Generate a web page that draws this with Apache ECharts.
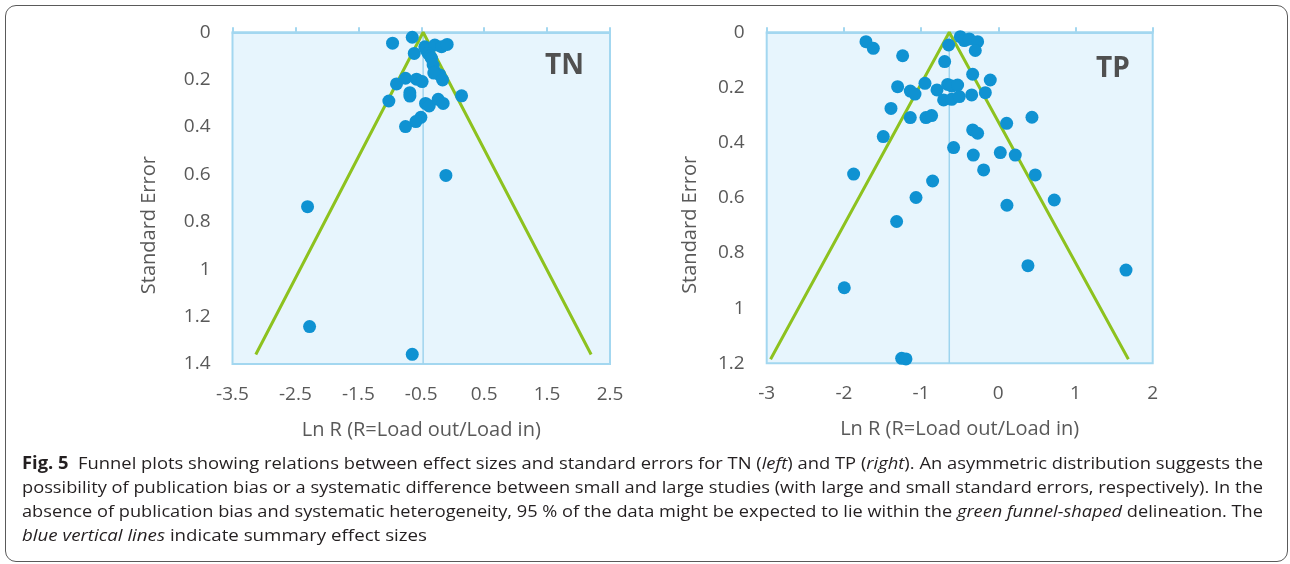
<!DOCTYPE html>
<html><head><meta charset="utf-8">
<script src="https://cdn.jsdelivr.net/npm/echarts@6/dist/echarts.min.js"></script>
<style>
html,body{margin:0;padding:0;width:1290px;height:564px;background:#fff;overflow:hidden}
#chart{position:absolute;left:0;top:0;width:1290px;height:564px}
#frame{position:absolute;left:5px;top:5px;width:1283px;height:557px;border:1.3px solid #5a5a5a;border-radius:11px;box-sizing:border-box;pointer-events:none}
#caption{position:absolute;left:22px;top:451px;width:1241px;font-family:"Open Sans","Noto Sans",sans-serif;font-size:17px;line-height:24px;color:#231f20}
#caption div{white-space:nowrap;height:24px}
#caption span{display:inline-block;transform-origin:0 50%;white-space:nowrap}
</style></head>
<body>
<div id="chart"></div>
<div id="frame"></div>
<div id="caption">
<div><span data-w="1241"><b>Fig. 5</b>&nbsp; Funnel plots showing relations between effect sizes and standard errors for TN (<i>left</i>) and TP (<i>right</i>). An asymmetric distribution suggests the</span></div>
<div><span data-w="1241">possibility of publication bias or a systematic difference between small and large studies (with large and small standard errors, respectively). In the</span></div>
<div><span data-w="1241">absence of publication bias and systematic heterogeneity, 95 % of the data might be expected to lie within the <i>green funnel-shaped</i> delineation. The</span></div>
<div><span data-w="405"><i>blue vertical lines</i> indicate summary effect sizes</span></div>
</div>
<script>
// ---- TN panel data (Ln R, standard error) ----
const tnLnR = [-0.643,-0.956,-0.611,-0.443,-0.42,-0.284,-0.177,-0.088,-0.39,-0.36,-0.336,-0.311,-0.284,-0.204,-0.893,-0.75,-0.575,-0.486,-0.30,-0.161,-0.681,-0.681,-1.015,-0.432,-0.374,-0.231,-0.152,0.141,-0.506,-0.586,-0.75,-0.108,-2.307,-2.275,-0.643];
const tnSE  = [0.021,0.046,0.089,0.061,0.075,0.054,0.061,0.051,0.089,0.10,0.11,0.138,0.166,0.18,0.218,0.194,0.198,0.208,0.172,0.201,0.255,0.269,0.290,0.300,0.311,0.283,0.300,0.268,0.359,0.377,0.398,0.604,0.736,1.242,1.359];
const tnFunnelX  = [-3.13,-0.47,2.20];
const tnFunnelSE = [1.36,0,1.36];
const tnSummaryX = [-0.47,-0.47];
const tnSummarySE = [0,1.4];

// ---- TP panel data ----
const tpLnR = [-1.714,-1.619,-1.239,-0.643,-0.492,-0.440,-0.376,-0.268,-0.298,-0.695,-0.332,-0.104,-1.304,-0.950,-1.140,-1.079,-0.794,-0.656,-0.600,-0.527,-0.708,-0.604,-0.505,-0.345,-0.168,-1.390,-1.140,-0.937,-0.864,-1.490,-0.332,-0.268,0.108,0.436,-0.579,-0.324,0.026,0.220,-0.190,-1.874,0.479,-0.851,-1.066,0.725,0.112,-1.317,0.384,1.654,-1.995,-1.252,-1.196];
const tpSE  = [0.034,0.058,0.085,0.046,0.016,0.030,0.024,0.034,0.066,0.106,0.152,0.173,0.197,0.185,0.213,0.224,0.209,0.189,0.195,0.191,0.245,0.243,0.233,0.227,0.219,0.276,0.309,0.309,0.302,0.378,0.354,0.366,0.330,0.308,0.418,0.445,0.436,0.445,0.499,0.514,0.517,0.539,0.599,0.608,0.627,0.686,0.846,0.862,0.926,1.182,1.184];
const tpFunnelX  = [-2.95,-0.635,1.685];
const tpFunnelSE = [1.185,0,1.185];
const tpSummaryX = [-0.635,-0.635];
const tpSummarySE = [0,1.2];

const xTitle = 'Ln R (R=Load out/Load in)';
const yTitle = 'Standard Error';

// fit caption lines to the reference line widths
document.querySelectorAll('#caption span').forEach(s => {
  const w = s.getBoundingClientRect().width;
  const target = parseFloat(s.getAttribute('data-w'));
  s.style.transform = 'scaleX(' + (target / w) + ')';
});

const zip = (a,b) => a.map((v,i)=>[v,b[i]]);
const FONT = '"Open Sans","Noto Sans",sans-serif';
const tickColor = '#595959';
const boxColor = '#a3d7f0';
const dotColor = '#0f92d2';
const green = '#8dc21f';

function xAx(idx,min,max){
  return {type:'value',gridIndex:idx,min:min,max:max,interval:1,
    name:xTitle,nameLocation:'middle',nameGap:56,
    nameTextStyle:{fontFamily:FONT,fontSize:20,color:tickColor},
    axisLine:{show:true,lineStyle:{color:boxColor,width:2}},
    axisTick:{show:true,inside:true,length:5,lineStyle:{color:boxColor,width:2}},
    axisLabel:{fontFamily:FONT,fontSize:19,color:tickColor,margin:21,showMinLabel:true,showMaxLabel:true},
    splitLine:{show:false}};
}
function yAx(idx,max,gap){
  return {type:'value',gridIndex:idx,inverse:true,min:0,max:max,interval:0.2,
    name:yTitle,nameLocation:'middle',nameGap:gap,nameRotate:90,
    nameTextStyle:{fontFamily:FONT,fontSize:20,color:tickColor,padding:[0,54,0,0]},
    axisLine:{show:false},axisTick:{show:false},
    axisLabel:{fontFamily:FONT,fontSize:19,color:tickColor,margin:22,showMinLabel:true,showMaxLabel:true},
    splitLine:{show:false}};
}
function panel(idx, lnr, se, fx, fse, sx, sse){
  return [
    {type:'line',xAxisIndex:idx,yAxisIndex:idx,data:zip(sx,sse),symbol:'none',silent:true,
      lineStyle:{color:'#9fd4ee',width:1.5},z:2},
    {type:'line',xAxisIndex:idx,yAxisIndex:idx,data:zip(fx,fse),symbol:'none',silent:true,
      lineStyle:{color:green,width:3},z:3},
    {type:'scatter',xAxisIndex:idx,yAxisIndex:idx,data:zip(lnr,se),symbolSize:13,
      itemStyle:{color:dotColor,opacity:1},z:4}
  ];
}

const chart = echarts.init(document.getElementById('chart'),null,{renderer:'canvas'});
chart.setOption({
  animation:false,
  backgroundColor:'#ffffff',
  grid:[
    {left:232.5,top:32.3,width:377.5,height:331.7,show:true,backgroundColor:'#e7f5fd',borderColor:boxColor,borderWidth:2},
    {left:766.7,top:32.3,width:386,height:331,show:true,backgroundColor:'#e7f5fd',borderColor:boxColor,borderWidth:2}
  ],
  xAxis:[xAx(0,-3.5,2.5), xAx(1,-3,2)],
  yAxis:[yAx(0,1.4,73), yAx(1,1.2,66)],
  graphic:[
    {type:'text',left:545,top:52,style:{text:'TN',font:'bold 28px '+FONT,fill:'#505050'}},
    {type:'text',left:1096,top:55,style:{text:'TP',font:'bold 28px '+FONT,fill:'#505050'}}
  ],
  series:[].concat(
    panel(0,tnLnR,tnSE,tnFunnelX,tnFunnelSE,tnSummaryX,tnSummarySE),
    panel(1,tpLnR,tpSE,tpFunnelX,tpFunnelSE,tpSummaryX,tpSummarySE)
  )
});
</script>
</body></html>
